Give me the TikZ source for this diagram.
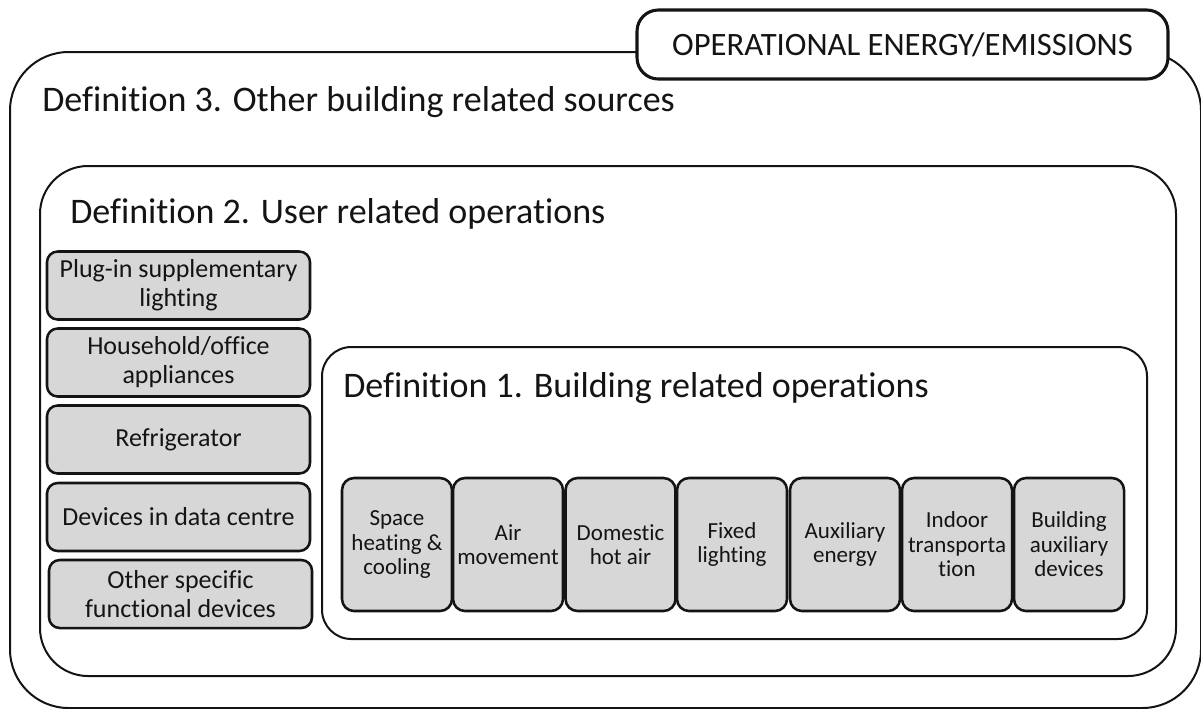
\documentclass[tikz,border=0pt]{standalone}
\usepackage{fontspec}
\setmainfont{Carlito}[RawFeature={-liga;-clig;-dlig}]
\definecolor{boxgray}{RGB}{215,215,215}
\definecolor{inkgray}{RGB}{20,20,20}
\tikzset{
  frame/.style={draw=inkgray, line width=1.5pt, fill=none, inner sep=0pt},
  tagbox/.style={draw=inkgray, line width=2.3pt, fill=white, rounded corners=16pt,
    inner sep=0pt, text=inkgray, font=\fontsize{24.5}{28}\selectfont},
  title/.style={inner sep=0pt, anchor=base west, text=inkgray,
    font=\fontsize{27}{32}\selectfont},
  userbox/.style={draw=inkgray, line width=1.9pt, fill=boxgray, rounded corners=8pt,
    inner sep=0pt, align=center, text=inkgray,
    minimum width=263*0.75pt, minimum height=68*0.75pt,
    font=\fontsize{19.5}{21.75}\selectfont},
  opbox/.style={draw=inkgray, line width=1.9pt, fill=boxgray, rounded corners=9pt,
    inner sep=0pt, align=center, text=inkgray,
    minimum width=110*0.75pt, minimum height=133*0.75pt,
    font=\fontsize{17.25}{18.4}\selectfont}
}
\begin{document}
\begin{tikzpicture}[x=0.75pt, y=-0.75pt]
\useasboundingbox (0,0) rectangle (1201,708);
\begin{scope}
\clip (0,0) rectangle (1201,708);

% nested scopes of operational energy
\node[frame, rounded corners=44pt, minimum width=1191*0.75pt, minimum height=656*0.75pt]
  (d3box) at (605.5,380) {};
\node[frame, rounded corners=36pt, minimum width=1136*0.75pt, minimum height=510*0.75pt]
  (d2box) at (608,421) {};
\node[frame, rounded corners=22pt, minimum width=825*0.75pt, minimum height=292*0.75pt]
  (d1box) at (734.5,493) {};

% heading tab sitting on the outer frame
\node[tagbox, minimum width=531*0.75pt, minimum height=69*0.75pt]
  (tag) at (902.5,44.5) {OPERATIONAL ENERGY/EMISSIONS};

% definition titles
\node[title] (d3title) at (42,111) {Definition 3. Other building related sources};
\node[title] (d2title) at (70,223) {Definition 2. User related operations};
\node[title] (d1title) at (343,397) {Definition 1. Building related operations};

% user related items
\node[userbox] (plug)   at (178.5,285.5) {Plug-in supplementary\\lighting};
\node[userbox] (house)  at (178.5,362.5) {Household/office\\appliances};
\node[userbox] (fridge) at (178.5,439.5) {Refrigerator};
\node[userbox] (data)   at (178.5,517)   {Devices in data centre};
\node[userbox] (other)  at (180.5,594)   {Other specific\\functional devices};

% building related items
\node[opbox] (heat)   at (397,544.5)    {Space\\heating \&\\cooling};
\node[opbox] (air)    at (508,544.5)    {Air\\movement};
\node[opbox] (dhw)    at (620.5,544.5)  {Domestic\\hot air};
\node[opbox] (light)  at (732,544.5)    {Fixed\\lighting};
\node[opbox] (aux)    at (845,544.5)    {Auxiliary\\energy};
\node[opbox] (trans)  at (957,544.5)    {Indoor\\transporta\\tion};
\node[opbox] (bdev)   at (1069,544.5)   {Building\\auxiliary\\devices};
\end{scope}
\end{tikzpicture}
\end{document}
